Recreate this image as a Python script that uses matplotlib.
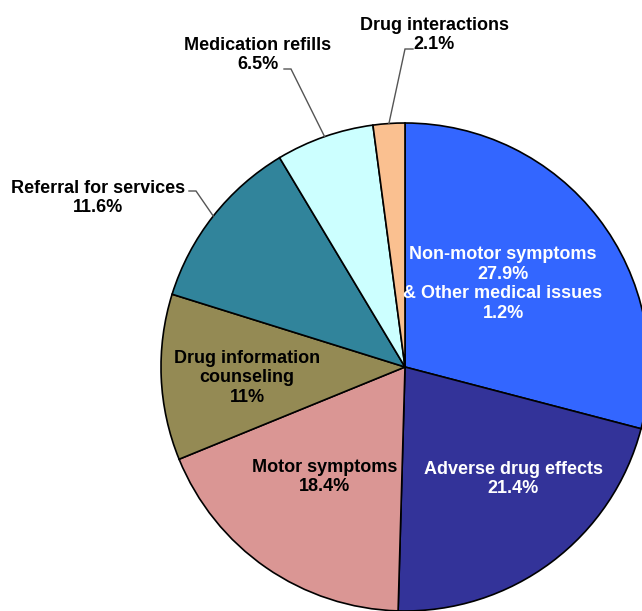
import matplotlib
matplotlib.use("Agg")
import matplotlib.pyplot as plt
import numpy as np

labels = ["Non-motor symptoms\n27.9%\n& Other medical issues\n1.2%",
          "Adverse drug effects\n21.4%",
          "Motor symptoms\n18.4%",
          "Drug information\ncounseling\n11%",
          "Referral for services\n11.6%",
          "Medication refills\n6.5%",
          "Drug interactions\n2.1%"]
values = [27.9 + 1.2, 21.4, 18.4, 11.0, 11.6, 6.5, 2.1]
colors = ["#3366FF", "#333399", "#DA9694", "#948A54", "#31849B", "#CCFFFF", "#FAC090"]
text_colors = ["white", "white", "black", "black", "black", "black", "black"]

# label block centres (pixels, y down) and leader elbows for outside labels
label_pos = [(503, 284), (513, 479), (325, 477), (247, 378), (98, 198), (258, 55), (434, 35)]
elbows = {4: ((189, 191), (196, 191)), 5: ((284, 69), (291, 69)), 6: ((413, 49), (405, 49))}

plt.rcParams["font.family"] = ["Liberation Sans", "DejaVu Sans"]

fig = plt.figure(figsize=(6.42, 6.11), dpi=100)
ax = fig.add_axes([0, 0, 1, 1])

cx, cy, r = 405, 367, 244
wedges, _ = ax.pie(values, colors=colors, center=(cx, cy), radius=r,
                   startangle=-90, counterclock=True,
                   wedgeprops=dict(edgecolor="black", linewidth=1.2))
ax.set_xlim(0, 642)
ax.set_ylim(611, 0)
ax.axis("off")

for i, (lab, (x, y)) in enumerate(zip(labels, label_pos)):
    ax.text(x, y, lab, ha="center", va="center", fontsize=13, fontweight="bold",
            color=text_colors[i], linespacing=1.2)

for i, (p0, p1) in elbows.items():
    w = wedges[i]
    mid = np.deg2rad((w.theta1 + w.theta2) / 2)
    ex, ey = cx + r * np.cos(mid), cy + r * np.sin(mid)
    ax.plot([p0[0], p1[0], ex], [p0[1], p1[1], ey], color="#555555", lw=1.0,
            solid_joinstyle="miter")

fig.savefig("out.png", dpi=100)
